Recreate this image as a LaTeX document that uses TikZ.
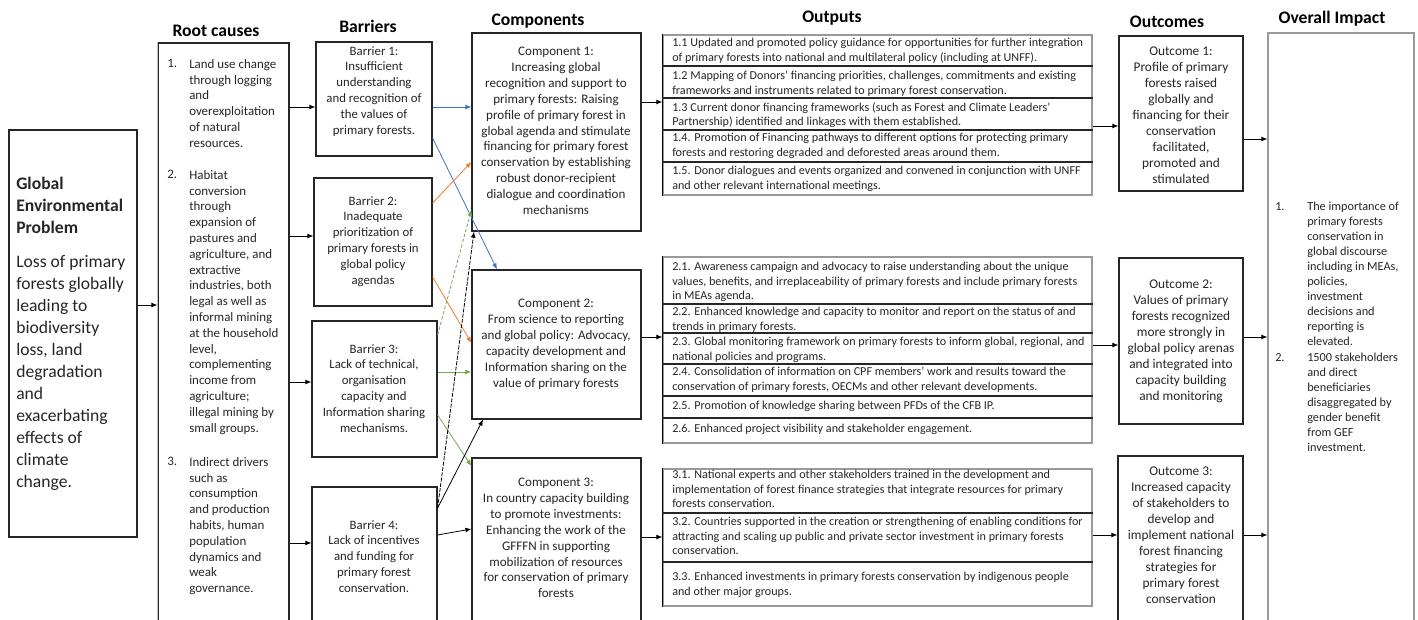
\documentclass[tikz,border=0pt]{standalone}
\usepackage{fontspec}
\setmainfont{Carlito}
\usetikzlibrary{fit,arrows.meta}
\newcommand\fsA{\fontsize{9.7pt}{11.85pt}\selectfont}
\newcommand\fsB{\fontsize{9.6pt}{11.85pt}\selectfont}
\newcommand\fsC{\fontsize{9.8pt}{11.9pt}\selectfont}
\newcommand\fsD{\fontsize{10pt}{12pt}\selectfont}
\newcommand\fsE{\fontsize{9.2pt}{11.2pt}\selectfont}
\newcommand\fsO{\fontsize{9.1pt}{10.9pt}\selectfont}
\newcommand\fsG{\fontsize{13.2pt}{16.5pt}\selectfont}
\definecolor{oblue}{RGB}{68,114,196}
\definecolor{oorange}{RGB}{237,125,49}
\definecolor{ogreen}{RGB}{112,173,71}
\definecolor{txtc}{RGB}{38,38,38}
\tikzset{
 box/.style={draw=black!85, line width=0.9pt, inner sep=0pt},
 obox/.style={draw=black!40, line width=0.8pt, inner sep=0pt},
 ibox/.style={draw=black!40, line width=0.9pt, inner sep=0pt},
 div/.style={draw=black!85, line width=0.8pt},
 arr/.style={-{Latex[length=4.5pt,width=3.6pt]}, line width=0.6pt, draw=black},
 carr/.style={-{Latex[length=4.5pt,width=3.6pt]}, line width=0.6pt},
 head/.style={font=\fontsize{13.2pt}{15pt}\selectfont\bfseries, inner sep=0pt, text=black},
 ctxt/.style={inner sep=0pt, align=center, anchor=north, font=\fsB, text=txtc},
 ltxt/.style={inner sep=0pt, align=left, anchor=north west, font=\fsA, text=txtc},
 otxt/.style={inner sep=0pt, align=left, anchor=north west, font=\fsO, text=txtc},
}
\begin{document}
\begin{tikzpicture}[x=0.75pt,y=-0.75pt]
\useasboundingbox (0,0) rectangle (1418,620);
\clip (0,0) rectangle (1418,620);
\fill[white] (0,0) rectangle (1418,620);

% headings
\node[head] (hrc) at (216,31) {Root causes};
\node[head] (hb) at (368,26) {Barriers};
\node[head] (hc) at (538,21) {Components};
\node[head] (ho) at (832,18) {Outputs};
\node[head] (hoc) at (1167,22) {Outcomes};
\node[head] (hi) at (1332,19) {Overall Impact};

% boxes
\node[box, fit={(9,130) (137,537)}] (gep) {};
\node[box, fit={(158,43) (289,640)}] (rc) {};
\draw[black!25, line width=1.2pt] (rc.north west) -- (rc.south west);
\node[box, fit={(316,42) (432,156)}] (b1) {};
\node[box, fit={(314,178) (432,306)}] (b2) {};
\node[box, fit={(312,321) (437,457)}] (b3) {};
\node[box, fit={(312,487) (437,640)}] (b4) {};
\node[box, fit={(472,33) (641,231)}] (c1) {};
\node[box, fit={(472,270) (641,419)}] (c2) {};
\node[box, fit={(472,458) (641,640)}] (c3) {};
\node[obox, fit={(663,35) (1092,195)}] (out1) {};
\node[obox, fit={(663,257) (1092,443)}] (out2) {};
\node[obox, fit={(663,469) (1092,606)}] (out3) {};
\draw[black, line width=1.2pt] (out1.north west) -- (out1.south west);
\draw[black, line width=1.2pt] (out2.north west) -- (out2.south west);
\draw[black, line width=1.2pt] (out3.north west) -- (out3.south west);
\foreach \yy in {66,98,130,162} \draw[div] (out1.west |- 0,\yy) -- (out1.east |- 0,\yy);
\foreach \yy in {304,333,364,396,418} \draw[div] (out2.west |- 0,\yy) -- (out2.east |- 0,\yy);
\foreach \yy in {513,562} \draw[div] (out3.west |- 0,\yy) -- (out3.east |- 0,\yy);
\node[box, fit={(1119,36) (1243,191)}] (oc1) {};
\node[box, fit={(1119,258) (1243,424)}] (oc2) {};
\node[box, fit={(1118,456) (1243,640)}] (oc3) {};
\node[ibox, fit={(1268,33) (1414,640)}] (imp) {};

% GEP text
\node[ltxt, font=\fsG\bfseries] (gept) at (16,177) {Global\\Environmental\\Problem};
\node[ltxt, font=\fsG] (gepb) at (16,255) {Loss of primary\\forests globally\\leading to\\biodiversity\\loss, land\\degradation\\and\\exacerbating\\effects of\\climate\\change.};

% root causes
\node[ltxt] (rn1) at (167,59) {1.};
\node[ltxt] (rt1) at (189,59) {Land use change\\through logging\\and\\overexploitation\\of natural\\resources.};
\node[ltxt] (rn2) at (167,170) {2.};
\node[ltxt] (rt2) at (189,170) {Habitat\\conversion\\through\\expansion of\\pastures and\\agriculture, and\\extractive\\industries, both\\legal as well as\\informal mining\\at the household\\level,\\complementing\\income from\\agriculture;\\illegal mining by\\small groups.};
\node[ltxt] (rn3) at (167,457) {3.};
\node[ltxt] (rt3) at (189,457) {Indirect drivers\\such as\\consumption\\and production\\habits, human\\population\\dynamics and\\weak\\governance.};

% barriers
\node[ctxt] (bt1) at (374,46) {Barrier 1:\\Insufficient\\understanding\\and recognition of\\the values of\\primary forests.};
\node[ctxt] (bt2) at (373,196) {Barrier 2:\\Inadequate\\prioritization of\\primary forests in\\global policy\\agendas};
\node[ctxt] (bt3) at (374,344) {Barrier 3:\\Lack of technical,\\organisation\\capacity and\\Information sharing\\mechanisms.};
\node[ctxt] (bt4) at (374,520) {Barrier 4:\\Lack of incentives\\and funding for\\primary forest\\conservation.};

% components
\node[ctxt, font=\fsC] (ct1) at (556,47) {Component 1:\\Increasing global\\recognition and support to\\primary forests: Raising\\profile of primary forest in\\global agenda and stimulate\\financing for primary forest\\conservation by establishing\\robust donor-recipient\\dialogue and coordination\\mechanisms};
\node[ctxt, font=\fsC] (ct2) at (556,299) {Component 2:\\From science to reporting\\and global policy: Advocacy,\\capacity development and\\Information sharing on the\\value of primary forests};
\node[ctxt, font=\fsC] (ct3) at (556,478) {Component 3:\\In country capacity building\\to promote investments:\\Enhancing the work of the\\GFFFN in supporting\\mobilization of resources\\for conservation of primary\\forests};

% outputs
\node[otxt] (o11) at (672,38) {1.1 Updated and promoted policy guidance for opportunities for further integration\\of primary forests into national and multilateral policy (including at UNFF).};
\node[otxt] (o12) at (672,71) {1.2 Mapping of Donors' financing priorities, challenges, commitments and existing\\frameworks and instruments related to primary forest conservation.};
\node[otxt] (o13) at (672,102) {1.3 Current donor financing frameworks (such as Forest and Climate Leaders'\\Partnership) identified and linkages with them established.};
\node[otxt] (o14) at (672,133) {1.4. Promotion of Financing pathways to different options for protecting primary\\forests and restoring degraded and deforested areas around them.};
\node[otxt] (o15) at (672,166) {1.5. Donor dialogues and events organized and convened in conjunction with UNFF\\and other relevant international meetings.};

\node[otxt] (o21) at (672,262) {2.1. Awareness campaign and advocacy to raise understanding about the unique\\values, benefits, and irreplaceability of primary forests and include primary forests\\in MEAs agenda.};
\node[otxt] (o22) at (672,307) {2.2. Enhanced knowledge and capacity to monitor and report on the status of and\\trends in primary forests.};
\node[otxt] (o23) at (672,337) {2.3. Global monitoring framework on primary forests to inform global, regional, and\\national policies and programs.};
\node[otxt] (o24) at (672,367) {2.4. Consolidation of information on CPF members' work and results toward the\\conservation of primary forests, OECMs and other relevant developments.};
\node[otxt] (o25) at (672,401) {2.5. Promotion of knowledge sharing between PFDs of the CFB IP.};
\node[otxt] (o26) at (672,424) {2.6. Enhanced project visibility and stakeholder engagement.};

\node[otxt] (o31) at (672,470) {3.1. National experts and other stakeholders trained in the development and\\implementation of forest finance strategies that integrate resources for primary\\forests conservation.};
\node[otxt] (o32) at (672,517) {3.2. Countries supported in the creation or strengthening of enabling conditions for\\attracting and scaling up public and private sector investment in primary forests\\conservation.};
\node[otxt] (o33) at (672,572) {3.3. Enhanced investments in primary forests conservation by indigenous people\\and other major groups.};

% outcomes
\node[ctxt, font=\fsD] (oct1) at (1181,47) {Outcome 1:\\Profile of primary\\forests raised\\globally and\\financing for their\\conservation\\facilitated,\\promoted and\\stimulated};
\node[ctxt, font=\fsD] (oct2) at (1181,280) {Outcome 2:\\Values of primary\\forests recognized\\more strongly in\\global policy arenas\\and integrated into\\capacity building\\and monitoring};
\node[ctxt, font=\fsD] (oct3) at (1181,467) {Outcome 3:\\Increased capacity\\of stakeholders to\\develop and\\implement national\\forest financing\\strategies for\\primary forest\\conservation};

% impact
\node[ltxt, font=\fsE] (in1) at (1275,202) {1.};
\node[ltxt, font=\fsE] (it1) at (1307,202) {The importance of\\primary forests\\conservation in\\global discourse\\including in MEAs,\\policies,\\investment\\decisions and\\reporting is\\elevated.};
\node[ltxt, font=\fsE] (in2) at (1275,353) {2.};
\node[ltxt, font=\fsE] (it2) at (1307,353) {1500 stakeholders\\and direct\\beneficiaries\\disaggregated by\\gender benefit\\from GEF\\investment.};

% arrows: main flow
\draw[arr] (gep.east |- 0,305) -- (rc.west |- 0,305);
\draw[arr] (rc.east |- 0,107) -- (b1.west |- 0,107);
\draw[arr] (rc.east |- 0,236) -- (b2.west |- 0,236);
\draw[arr] (rc.east |- 0,382) -- (b3.west |- 0,382);
\draw[arr] (rc.east |- 0,543) -- (b4.west |- 0,543);
\draw[arr] (c1.east |- 0,102) -- (out1.west |- 0,102);
\draw[arr] (c2.east |- 0,337) -- (out2.west |- 0,337);
\draw[arr] (c3.east |- 0,537) -- (out3.west |- 0,537);
\draw[arr] (out1.east |- 0,126) -- (oc1.west |- 0,126);
\draw[arr] (out2.east |- 0,345) -- (oc2.west |- 0,345);
\draw[arr] (out3.east |- 0,535) -- (oc3.west |- 0,535);
\draw[arr] (oc1.east |- 0,139) -- (imp.west |- 0,139);
\draw[arr] (oc2.east |- 0,337) -- (imp.west |- 0,337);
\draw[arr] (oc3.east |- 0,535) -- (imp.west |- 0,535);

% barrier -> component arrows
\draw[carr, oblue] (b1.east |- 0,107) -- (c1.west |- 0,107);
\draw[carr, oblue] (b1.east |- 0,138) -- (c2.north -| 497,0);
\draw[carr, oorange] (b2.east |- 0,203) -- (c1.west |- 0,162);
\draw[carr, oorange] (b2.east |- 0,277) -- (c2.west |- 0,343);
\draw[carr, ogreen, dash pattern=on 2.5pt off 1.5pt] (b3.east |- 0,335) -- (c1.west |- 0,210);
\draw[carr, ogreen] (b3.east |- 0,372) -- (c2.west |- 0,372);
\draw[carr, ogreen] (b3.east |- 0,415) -- (c3.west |- 0,466);
\draw[arr, dash pattern=on 3pt off 1pt] (b4.east |- 0,508) -- (c1.south -| 474,0);
\draw[arr] (b4.east |- 0,508) -- (c2.south -| 483,0);
\draw[arr] (b4.east |- 0,535) -- (c3.west |- 0,529);
\end{tikzpicture}
\end{document}
